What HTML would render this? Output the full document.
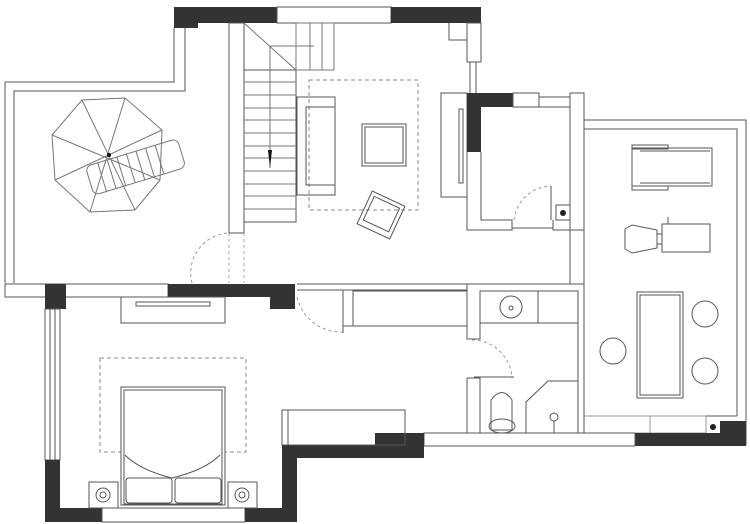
<!DOCTYPE html>
<html><head><meta charset="utf-8"><style>html,body{margin:0;padding:0;background:#fff}svg{display:block}</style></head><body>
<svg width="750" height="524" viewBox="0 0 750 524" xmlns="http://www.w3.org/2000/svg" fill="none" stroke="#555" stroke-width="1">
<!-- top walls -->
<rect x="174" y="7" width="103" height="16" fill="#333" stroke="none"/>
<rect x="174" y="23" width="24" height="5" fill="#333" stroke="none"/>
<rect x="277" y="7" width="114" height="16" fill="#fff"/>
<rect x="391" y="7" width="90" height="16" fill="#333" stroke="none"/>
<!-- terrace -->
<polyline points="5,283 5,82 174,82 174,28"/>
<polyline points="14,283 14,91 185,91 185,28"/>
<!-- stair wall -->
<rect x="229" y="23" width="15" height="210"/>
<line x1="229" y1="233" x2="229" y2="283" stroke-dasharray="3,3" stroke="#aaa"/>
<line x1="244" y1="233" x2="244" y2="283" stroke-dasharray="3,3" stroke="#aaa"/>
<path d="M192,283 A40,40 0 0 1 229,233" stroke-dasharray="3,3" stroke="#999"/>
<!-- stairs -->
<rect x="244" y="70" width="52" height="152"/>
<g stroke="#777">
<line x1="244" y1="82" x2="296" y2="82"/><line x1="244" y1="95" x2="296" y2="95"/><line x1="244" y1="108" x2="296" y2="108"/><line x1="244" y1="120" x2="296" y2="120"/><line x1="244" y1="133" x2="296" y2="133"/><line x1="244" y1="146" x2="296" y2="146"/><line x1="244" y1="158" x2="296" y2="158"/><line x1="244" y1="171" x2="296" y2="171"/><line x1="244" y1="184" x2="296" y2="184"/><line x1="244" y1="196" x2="296" y2="196"/><line x1="244" y1="209" x2="296" y2="209"/>
<line x1="244" y1="23" x2="296" y2="70"/><line x1="270" y1="46" x2="270" y2="168"/>
<rect x="296" y="23" width="38" height="47"/><line x1="310" y1="23" x2="310" y2="70"/><line x1="322" y1="23" x2="322" y2="70"/><line x1="270" y1="46" x2="314" y2="46"/>
</g>
<path d="M268,150 L272,150 L270,168 Z" fill="#111" stroke="none"/>
<!-- umbrella -->
<g stroke="#777">
<polygon points="82,100 125,98 162,130 160,180 135,210 90,212 55,180 52,135"/>
<line x1="82" y1="100" x2="135" y2="210"/><line x1="125" y1="98" x2="90" y2="212"/><line x1="162" y1="130" x2="55" y2="180"/><line x1="52" y1="135" x2="160" y2="180"/>
<g transform="rotate(-17 135 165)"><rect x="87" y="152" width="96" height="30" rx="6"/><line x1="100" y1="152" x2="100" y2="182"/><line x1="110" y1="152" x2="110" y2="182"/><line x1="120" y1="152" x2="120" y2="182"/><line x1="130" y1="152" x2="130" y2="182"/><line x1="140" y1="152" x2="140" y2="182"/><line x1="150" y1="152" x2="150" y2="182"/><line x1="160" y1="152" x2="160" y2="182"/></g>
</g>
<circle cx="109" cy="155" r="2" fill="#000" stroke="none"/>
<!-- living -->
<rect x="309" y="80" width="109" height="130" stroke-dasharray="4,3" stroke="#888"/>
<rect x="297" y="97" width="38" height="98"/><rect x="306" y="107" width="29" height="78"/>
<rect x="362" y="124" width="44" height="42"/><rect x="365" y="127" width="38" height="36"/>
<g transform="rotate(25 381 215)"><rect x="363" y="197" width="36" height="36"/><rect x="367" y="201" width="28" height="26"/></g>
<!-- right of living -->
<rect x="467" y="23" width="14" height="39"/>
<polyline points="449,23 449,40 467,40"/>
<line x1="470" y1="62" x2="470" y2="93"/><line x1="476" y1="62" x2="476" y2="93"/>
<rect x="441" y="93" width="26" height="104"/><rect x="459" y="109" width="4" height="74"/>
<!-- small room -->
<rect x="467" y="93" width="14" height="59" fill="#333" stroke="none"/>
<rect x="467" y="93" width="46" height="14" fill="#333" stroke="none"/>
<rect x="513" y="93" width="26" height="14"/>
<line x1="539" y1="97" x2="570" y2="97"/><line x1="539" y1="107" x2="570" y2="107"/>
<rect x="570" y="93" width="14" height="137"/>
<polyline points="467,152 467,230 512,230 512,220 481,220 481,152"/>
<polyline points="553,220 553,230 584,230"/>
<line x1="512" y1="228" x2="553" y2="228"/>
<rect x="556" y="205" width="14" height="15"/><circle cx="563" cy="213" r="3" fill="#222" stroke="none"/>
<path d="M514,220 A38,38 0 0 1 551,186" stroke-dasharray="3,3" stroke="#999"/><line x1="551" y1="186" x2="551" y2="220"/>
<line x1="570" y1="230" x2="570" y2="284"/><line x1="584" y1="230" x2="584" y2="284"/>
<!-- gym -->
<polyline points="584,120 746,120 746,445"/>
<polyline points="584,129 737,129 737,416"/>
<rect x="632" y="148" width="80" height="38"/><rect x="632" y="145" width="36" height="4"/><rect x="632" y="186" width="36" height="4"/><line x1="640" y1="151" x2="710" y2="151"/><line x1="640" y1="183" x2="710" y2="183"/>
<polygon points="625,229 632,225 657,230 657,248 632,253 625,249"/><rect x="662" y="224" width="48" height="28"/><rect x="657" y="234" width="5" height="10"/><line x1="668" y1="217" x2="668" y2="224"/>
<rect x="637" y="292" width="46" height="106"/><rect x="640" y="295" width="40" height="100"/>
<circle cx="613" cy="351" r="13"/><circle cx="705" cy="314" r="13"/><circle cx="705" cy="371" r="13"/>
<line x1="584" y1="416" x2="737" y2="416"/>
<rect x="584" y="416" width="66" height="17" stroke="#999"/><rect x="650" y="416" width="56" height="17" stroke="#999"/>
<rect x="720" y="421" width="26" height="25" fill="#333" stroke="none"/>
<rect x="635" y="433" width="111" height="13" fill="#333" stroke="none"/>
<circle cx="713" cy="427" r="3" fill="#222" stroke="none"/>
<!-- middle band -->
<rect x="5" y="284" width="163" height="13"/>
<rect x="45" y="284" width="21" height="25" fill="#333" stroke="none"/>
<rect x="168" y="284" width="127" height="13" fill="#333" stroke="none"/>
<rect x="270" y="297" width="25" height="12" fill="#333" stroke="none"/>
<line x1="297" y1="284" x2="343" y2="284"/><line x1="297" y1="290" x2="343" y2="290"/>
<path d="M297,297 A45,45 0 0 0 342,332" stroke-dasharray="3,3" stroke="#999"/>
<line x1="343" y1="284" x2="584" y2="284"/>
<rect x="343" y="290" width="124" height="36"/><rect x="353" y="291" width="114" height="35"/><line x1="343" y1="290" x2="343" y2="333"/>
<!-- bathroom -->
<polyline points="467,284 467,339 480,339 480,291 578,291 578,433"/>
<line x1="584" y1="284" x2="584" y2="433"/>
<polyline points="467,378 480,378 480,433"/><line x1="467" y1="378" x2="467" y2="433"/>
<line x1="480" y1="323" x2="578" y2="323"/><line x1="538" y1="291" x2="538" y2="323"/>
<circle cx="511" cy="307" r="11"/><circle cx="511" cy="308" r="2"/>
<path d="M472,340 A40,40 0 0 1 512,378" stroke-dasharray="3,3" stroke="#999"/><line x1="474" y1="377" x2="514" y2="377"/>
<path d="M491,430 L491,400 Q502,385 512,400 L512,430 Z"/><ellipse cx="502" cy="426" rx="13" ry="7"/>
<polyline points="526,433 526,402 548,381 578,381"/><circle cx="554" cy="417" r="4"/><line x1="554" y1="421" x2="554" y2="433"/>
<rect x="424" y="433" width="211" height="13"/>
<!-- bedroom -->
<rect x="45" y="309" width="15" height="151"/><line x1="50" y1="309" x2="50" y2="460"/><line x1="55" y1="309" x2="55" y2="460"/>
<rect x="45" y="460" width="15" height="62" fill="#333" stroke="none"/>
<rect x="45" y="508" width="57" height="14" fill="#333" stroke="none"/>
<rect x="102" y="508" width="143" height="14"/>
<rect x="245" y="508" width="52" height="14" fill="#333" stroke="none"/>
<rect x="282" y="445" width="15" height="77" fill="#333" stroke="none"/>
<rect x="282" y="445" width="93" height="13" fill="#333" stroke="none"/>
<rect x="375" y="433" width="49" height="25" fill="#333" stroke="none"/>
<rect x="282" y="410" width="123" height="35"/><line x1="288" y1="410" x2="288" y2="445"/>
<rect x="121" y="297" width="104" height="26"/><rect x="136" y="302" width="74" height="4"/>
<rect x="100" y="358" width="146" height="94" stroke-dasharray="4,3" stroke="#888"/>
<rect x="121" y="387" width="104" height="118" fill="#fff"/><rect x="124" y="390" width="98" height="114"/>
<path d="M125,455 Q140,470 172,478 Q205,470 220,455"/>
<rect x="126" y="478" width="46" height="25" rx="3"/><rect x="175" y="478" width="46" height="25" rx="3"/>
<rect x="89" y="482" width="29" height="26"/><circle cx="103" cy="495" r="7"/><circle cx="103" cy="495" r="3"/>
<rect x="228" y="482" width="29" height="26"/><circle cx="242" cy="495" r="7"/><circle cx="242" cy="495" r="3"/>
</svg>
</body></html>
